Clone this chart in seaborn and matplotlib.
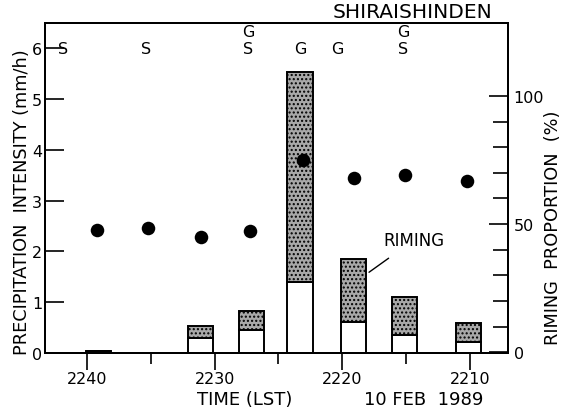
import matplotlib
matplotlib.use("Agg")
import matplotlib.pyplot as plt
import seaborn as sns
import numpy as np
import pandas as pd

# ---- data ----
bar_times = [2239.1, 2231.1, 2227.1, 2223.3, 2219.1, 2215.1, 2210.1]
total_precip = [0.03, 0.53, 0.83, 5.53, 1.85, 1.10, 0.59]
unrimed_precip = [0.03, 0.30, 0.45, 1.40, 0.61, 0.35, 0.22]

dot_times = [2239.2, 2235.2, 2231.1, 2227.2, 2223.1, 2219.1, 2215.1, 2210.2]
riming_prop = [47.7, 48.4, 45.0, 47.3, 75.0, 68.0, 69.0, 66.8]

type_times = [2241.9, 2235.4, 2227.4, 2223.3, 2220.4, 2215.2]
type_upper = ["", "", "G", "", "", "G"]
type_lower = ["S", "S", "S", "G", "G", "S"]

x_major = [2240, 2230, 2220, 2210]
x_minor = [2235, 2225, 2215]

sns.set_style("ticks")
plt.rcParams["font.family"] = ["DejaVu Sans"]
plt.rcParams["text.color"] = "black"
plt.rcParams["xtick.color"] = "black"
plt.rcParams["ytick.color"] = "black"
plt.rcParams["axes.labelcolor"] = "black"

fig = plt.figure(figsize=(5.72, 4.14), dpi=100)
ax = fig.add_axes([0.0787, 0.145, 0.8095, 0.797])
ax2 = ax.twinx()

riming = [t - u for t, u in zip(total_precip, unrimed_precip)]
ax.bar(bar_times, unrimed_precip, width=2.0, color="white",
       edgecolor="black", linewidth=1.4, zorder=2)
ax.bar(bar_times, riming, bottom=unrimed_precip, width=2.0, color="#a8a8a8",
       edgecolor="black", linewidth=1.4, hatch="....", zorder=2)

df = pd.DataFrame({"time": dot_times, "prop": riming_prop})
sns.scatterplot(data=df, x="time", y="prop", ax=ax2, s=95, color="black",
                edgecolor="black", linewidth=0, zorder=5)

ax.set_xlim(2243.3, 2207.0)
ax.set_ylim(0, 6.5)
ax2.set_ylim(-0.3, 128.5)

ax.set_xticks(x_major)
ax.set_xticks(x_minor, minor=True)
ax.set_xticklabels([str(v) for v in x_major], fontsize=11.5)
ax.set_yticks(range(0, 7))
ax.set_yticklabels([str(v) for v in range(0, 7)], fontsize=11.5)
ax2.set_yticks([0, 50, 100])
ax2.set_yticks([10, 20, 30, 40, 60, 70, 80, 90], minor=True)
ax2.set_yticklabels(["0", "50", "100"], fontsize=11.5)

ax.tick_params(axis="x", which="major", direction="out", length=12, width=1.2, pad=1)
ax.tick_params(axis="x", which="minor", direction="out", length=8, width=1.2)
ax.tick_params(axis="y", which="major", direction="in", length=14, width=1.2, pad=2)
ax2.tick_params(axis="y", which="major", direction="in", length=14, width=1.2, pad=4)
ax2.tick_params(axis="y", which="minor", direction="in", length=11, width=1.2)
ax2.set_xlabel("")
ax2.set_ylabel("")
ax.set_xlabel("")
ax.set_ylabel("")

for a in (ax, ax2):
    for sp in a.spines.values():
        sp.set_visible(True)
        sp.set_linewidth(1.4)
        sp.set_color("black")

# precipitation type letters
for t, up, lo in zip(type_times, type_upper, type_lower):
    ax.text(t, 6.0, lo, ha="center", va="center", fontsize=11.5)
    if up:
        ax.text(t, 6.33, up, ha="center", va="center", fontsize=11.5)

ax.annotate("RIMING", xy=(2217.9, 1.59), xytext=(2214.4, 2.22),
            ha="center", va="center", fontsize=12,
            arrowprops=dict(arrowstyle="-", color="black", lw=1.0,
                            shrinkA=7, shrinkB=0))

ax.text(0.793, 1.005, "SHIRAISHINDEN", transform=ax.transAxes,
        ha="center", va="bottom", fontsize=14.5)

fig.text(22 / 572, 1 - 202 / 414, "PRECIPITATION  INTENSITY (mm/h)",
         rotation=90, ha="center", va="center", fontsize=12.8)
fig.text(553 / 572, 1 - 228 / 414, "RIMING  PROPORTION  (%)",
         rotation=90, ha="center", va="center", fontsize=12.8)
fig.text(245 / 572, 1 - 400 / 414, "TIME (LST)", ha="center", va="center",
         fontsize=13)
fig.text(424 / 572, 1 - 400 / 414, "10 FEB  1989", ha="center", va="center",
         fontsize=13)

fig.savefig("out.png", dpi=100)
